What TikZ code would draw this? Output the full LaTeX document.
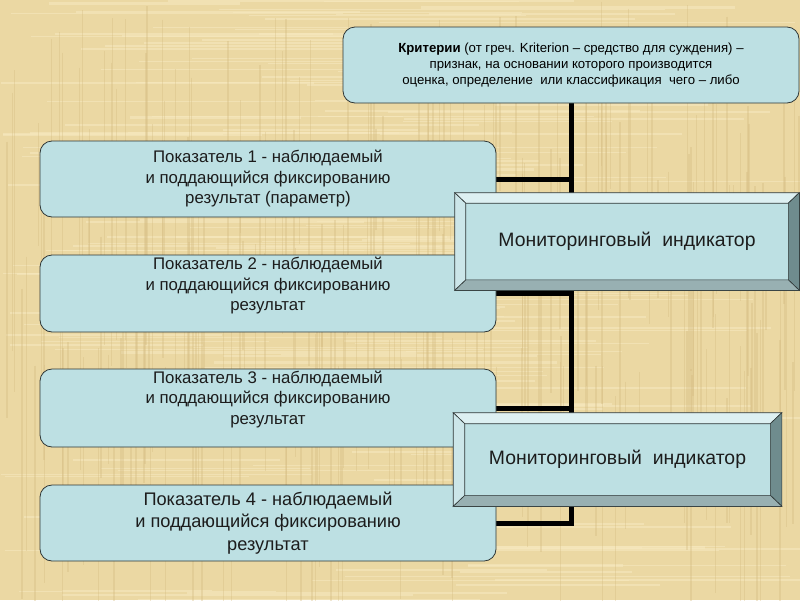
\documentclass[tikz,border=0pt]{standalone}
\usepackage{fontspec}
\setmainfont{Liberation Sans}
\usetikzlibrary{calc}
\definecolor{bgc}{HTML}{EBD8A3}
\definecolor{bglight}{HTML}{F6E8BE}
\definecolor{bgdark}{HTML}{D4BB80}
\definecolor{boxc}{HTML}{BDE0E3}
\definecolor{edgec}{HTML}{2E3636}
\definecolor{txtc}{HTML}{1C1C1C}
\definecolor{bevT}{HTML}{DDF0F2}
\definecolor{bevL}{HTML}{CCE6E9}
\definecolor{bevR}{HTML}{6F8C8E}
\definecolor{bevB}{HTML}{98B0B2}
\pgfdeclarelayer{back}
\pgfdeclarelayer{wires}
\pgfsetlayers{back,wires,main}
\tikzset{
  infobox/.style={draw=edgec, line width=0.8pt, fill=boxc, rounded corners=12pt,
    minimum width=456pt, align=center, text=txtc, inner sep=0pt},
  smalltxt/.style={font=\fontsize{16.8}{20.5}\selectfont, align=center, text=txtc},
  bigtxt/.style={font=\fontsize{18.2}{22.5}\selectfont},
  monitor/.style={draw=edgec, line width=0.6pt, fill=boxc, inner sep=0pt},
  montxt/.style={font=\fontsize{19.4}{22}\selectfont, text=txtc, inner sep=0pt},
  wire/.style={line width=5pt, black},
  bevline/.style={draw=edgec, line width=0.6pt}
}
\newcommand\bevelframe[3]{%
  \coordinate (#1-i1) at ($(#1.north west)+(#2,#3)$);
  \coordinate (#1-i2) at ($(#1.north east)+(-#2,#3)$);
  \coordinate (#1-i3) at ($(#1.south east)+(-#2,-#3)$);
  \coordinate (#1-i4) at ($(#1.south west)+(#2,-#3)$);
  \path[bevline, fill=bevT] (#1.north west) -- (#1.north east) -- (#1-i2) -- (#1-i1) -- cycle;
  \path[bevline, fill=bevR] (#1.north east) -- (#1.south east) -- (#1-i3) -- (#1-i2) -- cycle;
  \path[bevline, fill=bevB] (#1.south east) -- (#1.south west) -- (#1-i4) -- (#1-i3) -- cycle;
  \path[bevline, fill=bevL] (#1.south west) -- (#1.north west) -- (#1-i1) -- (#1-i4) -- cycle;
}
\begin{document}
\begin{tikzpicture}[x=1pt,y=-1pt]
\useasboundingbox (0,0) rectangle (800,600);
\begin{pgfonlayer}{back}
  \fill[bgc] (0,0) rectangle (800,600);
  \pgfmathsetseed{11}
  \foreach \i in {1,...,220}{
    \pgfmathsetmacro{\yy}{rnd*600}
    \pgfmathsetmacro{\ww}{0.5+rnd*2}
    \pgfmathsetmacro{\xa}{rnd*500}
    \draw[bglight, opacity=0.6, line width=\ww pt] (\xa,\yy) -- ++(150+rnd*300,0);
  }
  \foreach \i in {1,...,220}{
    \pgfmathsetmacro{\xx}{rnd*800}
    \pgfmathsetmacro{\ww}{0.5+rnd*1.6}
    \pgfmathsetmacro{\ya}{rnd*400}
    \draw[bgdark, opacity=0.35, line width=\ww pt] (\xx,\ya) -- ++(0,100+rnd*250);
  }
\end{pgfonlayer}

% top box
\node[infobox, minimum height=76pt, font=\fontsize{13.2}{16}\selectfont, text=black] (crit) at (571,65)
  {\textbf{Критерии} (от греч. Kriterion – средство для суждения) –\\
   признак, на основании которого производится\\
   оценка, определение\ \ или классификация\ \ чего – либо};

% indicator boxes
\node[infobox, minimum height=76pt, smalltxt] (b1) at (268,179)
  {Показатель 1 - наблюдаемый\\ и поддающийся фиксированию\\ результат (параметр)};
\node[infobox, minimum height=77pt,
  label={[smalltxt, yshift=7.5pt]center:{Показатель 2 - наблюдаемый\\ и поддающийся фиксированию\\ результат}}] (b2) at (268,293.5) {};
\node[infobox, minimum height=78pt,
  label={[smalltxt, yshift=8.5pt]center:{Показатель 3 - наблюдаемый\\ и поддающийся фиксированию\\ результат}}] (b3) at (268,408) {};
\node[infobox, minimum height=76pt, bigtxt] (b4) at (268,523)
  {Показатель 4 - наблюдаемый\\ и поддающийся фиксированию\\ результат};

% connectors
\begin{pgfonlayer}{wires}
  \draw[wire] (crit.south) |- (b1.east);
  \draw[wire] (crit.south) |- (b2.east);
  \draw[wire] (crit.south) |- (b3.east);
  \draw[wire] (crit.south) |- (b4.east);
\end{pgfonlayer}

% monitoring indicators
\node[monitor, minimum width=344pt, minimum height=97pt] (m1) at (627,241.5) {};
\bevelframe{m1}{11}{10.5}
\node[montxt] (m1t) at ($(m1-i1)!0.5!(m1-i3)$) {Мониторинговый\ \ индикатор};

\node[monitor, minimum width=328pt, minimum height=93pt] (m2) at (617.5,459.5) {};
\bevelframe{m2}{11.5}{11}
\node[montxt] (m2t) at ($(m2-i1)!0.5!(m2-i3)$) {Мониторинговый\ \ индикатор};
\end{tikzpicture}
\end{document}
